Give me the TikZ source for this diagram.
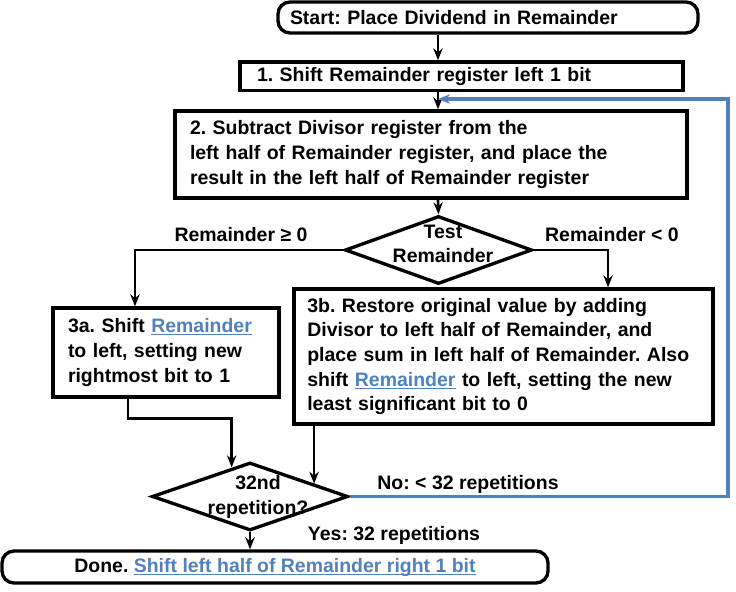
\documentclass[tikz,border=0pt]{standalone}
\usepackage{fontspec}
\setmainfont{Liberation Sans}
\usetikzlibrary{shapes.geometric,arrows.meta}
\frenchspacing

\definecolor{linkblue}{RGB}{79,129,189}
\newcommand{\ulink}[1]{\textcolor{linkblue}{\underline{\smash{#1}}}}

\tikzset{every picture/.style={line width=0.75pt}}
\tikzset{
  txt/.style={font=\bfseries\fontsize{14.6pt}{18.5pt}\selectfont, inner sep=0pt},
  stepbox/.style={draw, line width=2.5pt, txt, align=left, inner ysep=0pt},
  termbox/.style={stepbox, rounded corners=9pt},
  decision/.style={draw, diamond, line width=2.5pt, inner sep=0pt},
  flow/.style={line width=2pt, -{Stealth[length=9pt,width=7pt]}},
  loopback/.style={line width=2.3pt, draw=linkblue, -{Stealth[length=9pt,width=7pt]}},
}

\begin{document}
\begin{tikzpicture}[x=0.75pt,y=0.75pt,yscale=-1,xscale=1]
	\useasboundingbox (0,0) rectangle (736,592);

	%Shape: Rounded Rect [id:start]
	\node[termbox, minimum width=315pt, minimum height=23.25pt, text width=297pt, inner xsep=9pt] (start) at (488,17.5) {Start: Place Dividend in Remainder};
	%Shape: Rectangle [id:step1]
	\node[stepbox, minimum width=332.25pt, minimum height=21.4pt, text width=306.75pt, inner xsep=12.75pt] (shift) at (461.5,76.25) {1. Shift Remainder register left 1 bit};
	%Shape: Rectangle [id:step2]
	\node[stepbox, minimum width=384pt, minimum height=65.25pt, text width=361.5pt, inner xsep=11.25pt] (subtract) at (431,154.5) {2. Subtract Divisor register from the\\left half of Remainder register, and place the\\result in the left half of Remainder register};
	%Shape: Diamond [id:test]
	\node[decision, minimum width=140.25pt, minimum height=51pt] (test) at (438.5,250) {};
	%Shape: Rectangle [id:step3a]
	\node[stepbox, minimum width=169.5pt, minimum height=66.75pt, text width=147pt, inner xsep=11.25pt] (setone) at (166,352.5) {3a. Shift \ulink{Remainder}\\to left, setting new\\rightmost bit to 1};
	%Shape: Rectangle [id:step3b]
	\node[stepbox, minimum width=314.25pt, minimum height=101.25pt, text width=294.25pt, inner xsep=10pt] (restore) at (503.5,356.5) {3b. Restore original value by adding\\Divisor to left half of Remainder, and\\place sum in left half of Remainder. Also\\shift \ulink{Remainder} to left, setting the new\\least significant bit to 0};
	%Shape: Diamond [id:repeat]
	\node[decision, minimum width=147pt, minimum height=51pt] (rep) at (250,496.5) {};
	%Shape: Rounded Rect [id:done]
	\node[termbox, align=center, minimum width=409.5pt, minimum height=24pt] (done) at (275,567) {Done. \ulink{Shift left half of Remainder right 1 bit}};

	% Text Node
	\node[txt, align=center] (testtxt) at (443,244) {Test\\Remainder};
	% Text Node
	\node[txt, align=center] (reptxt) at (258,497) {32nd\\repetition?};
	% Text Node
	\node[txt] (geq) at (241,235) {Remainder ≥ 0};
	% Text Node
	\node[txt] (less) at (612,235) {Remainder < 0};
	% Text Node
	\node[txt] (no) at (468,484) {No: < 32 repetitions};
	% Text Node
	\node[txt] (yes) at (394,535) {Yes: 32 repetitions};

	\coordinate (spine) at (438,0);
	\coordinate (loopc) at (728,99);
	\path (rep.west) -- (rep.north) coordinate[pos=0.816] (repin);
	\path (rep.north) -- (rep.east) coordinate[pos=0.643] (repin2);

	%Straight Lines
	\draw[flow] (spine |- start.south) -- (spine |- shift.north);
	\draw[flow] (spine |- shift.south) -- (spine |- subtract.north);
	\draw[flow] (spine |- subtract.south) -- (test.north);
	\draw[flow] (test.west) -| ([xshift=-23.25pt]setone.north);
	\draw[flow] (test.east) -| ([xshift=78.4pt]restore.north);
	\draw[flow] ([xshift=-28.5pt]setone.south) -- ++(0,20) -| (repin);
	\draw[flow] (restore.south -| repin2) -- (repin2);
	\draw[flow] (rep.south) -- (rep.south |- done.north);
	\draw[loopback] (rep.east) -| (loopc) -- (spine |- loopc);
\end{tikzpicture}
\end{document}
